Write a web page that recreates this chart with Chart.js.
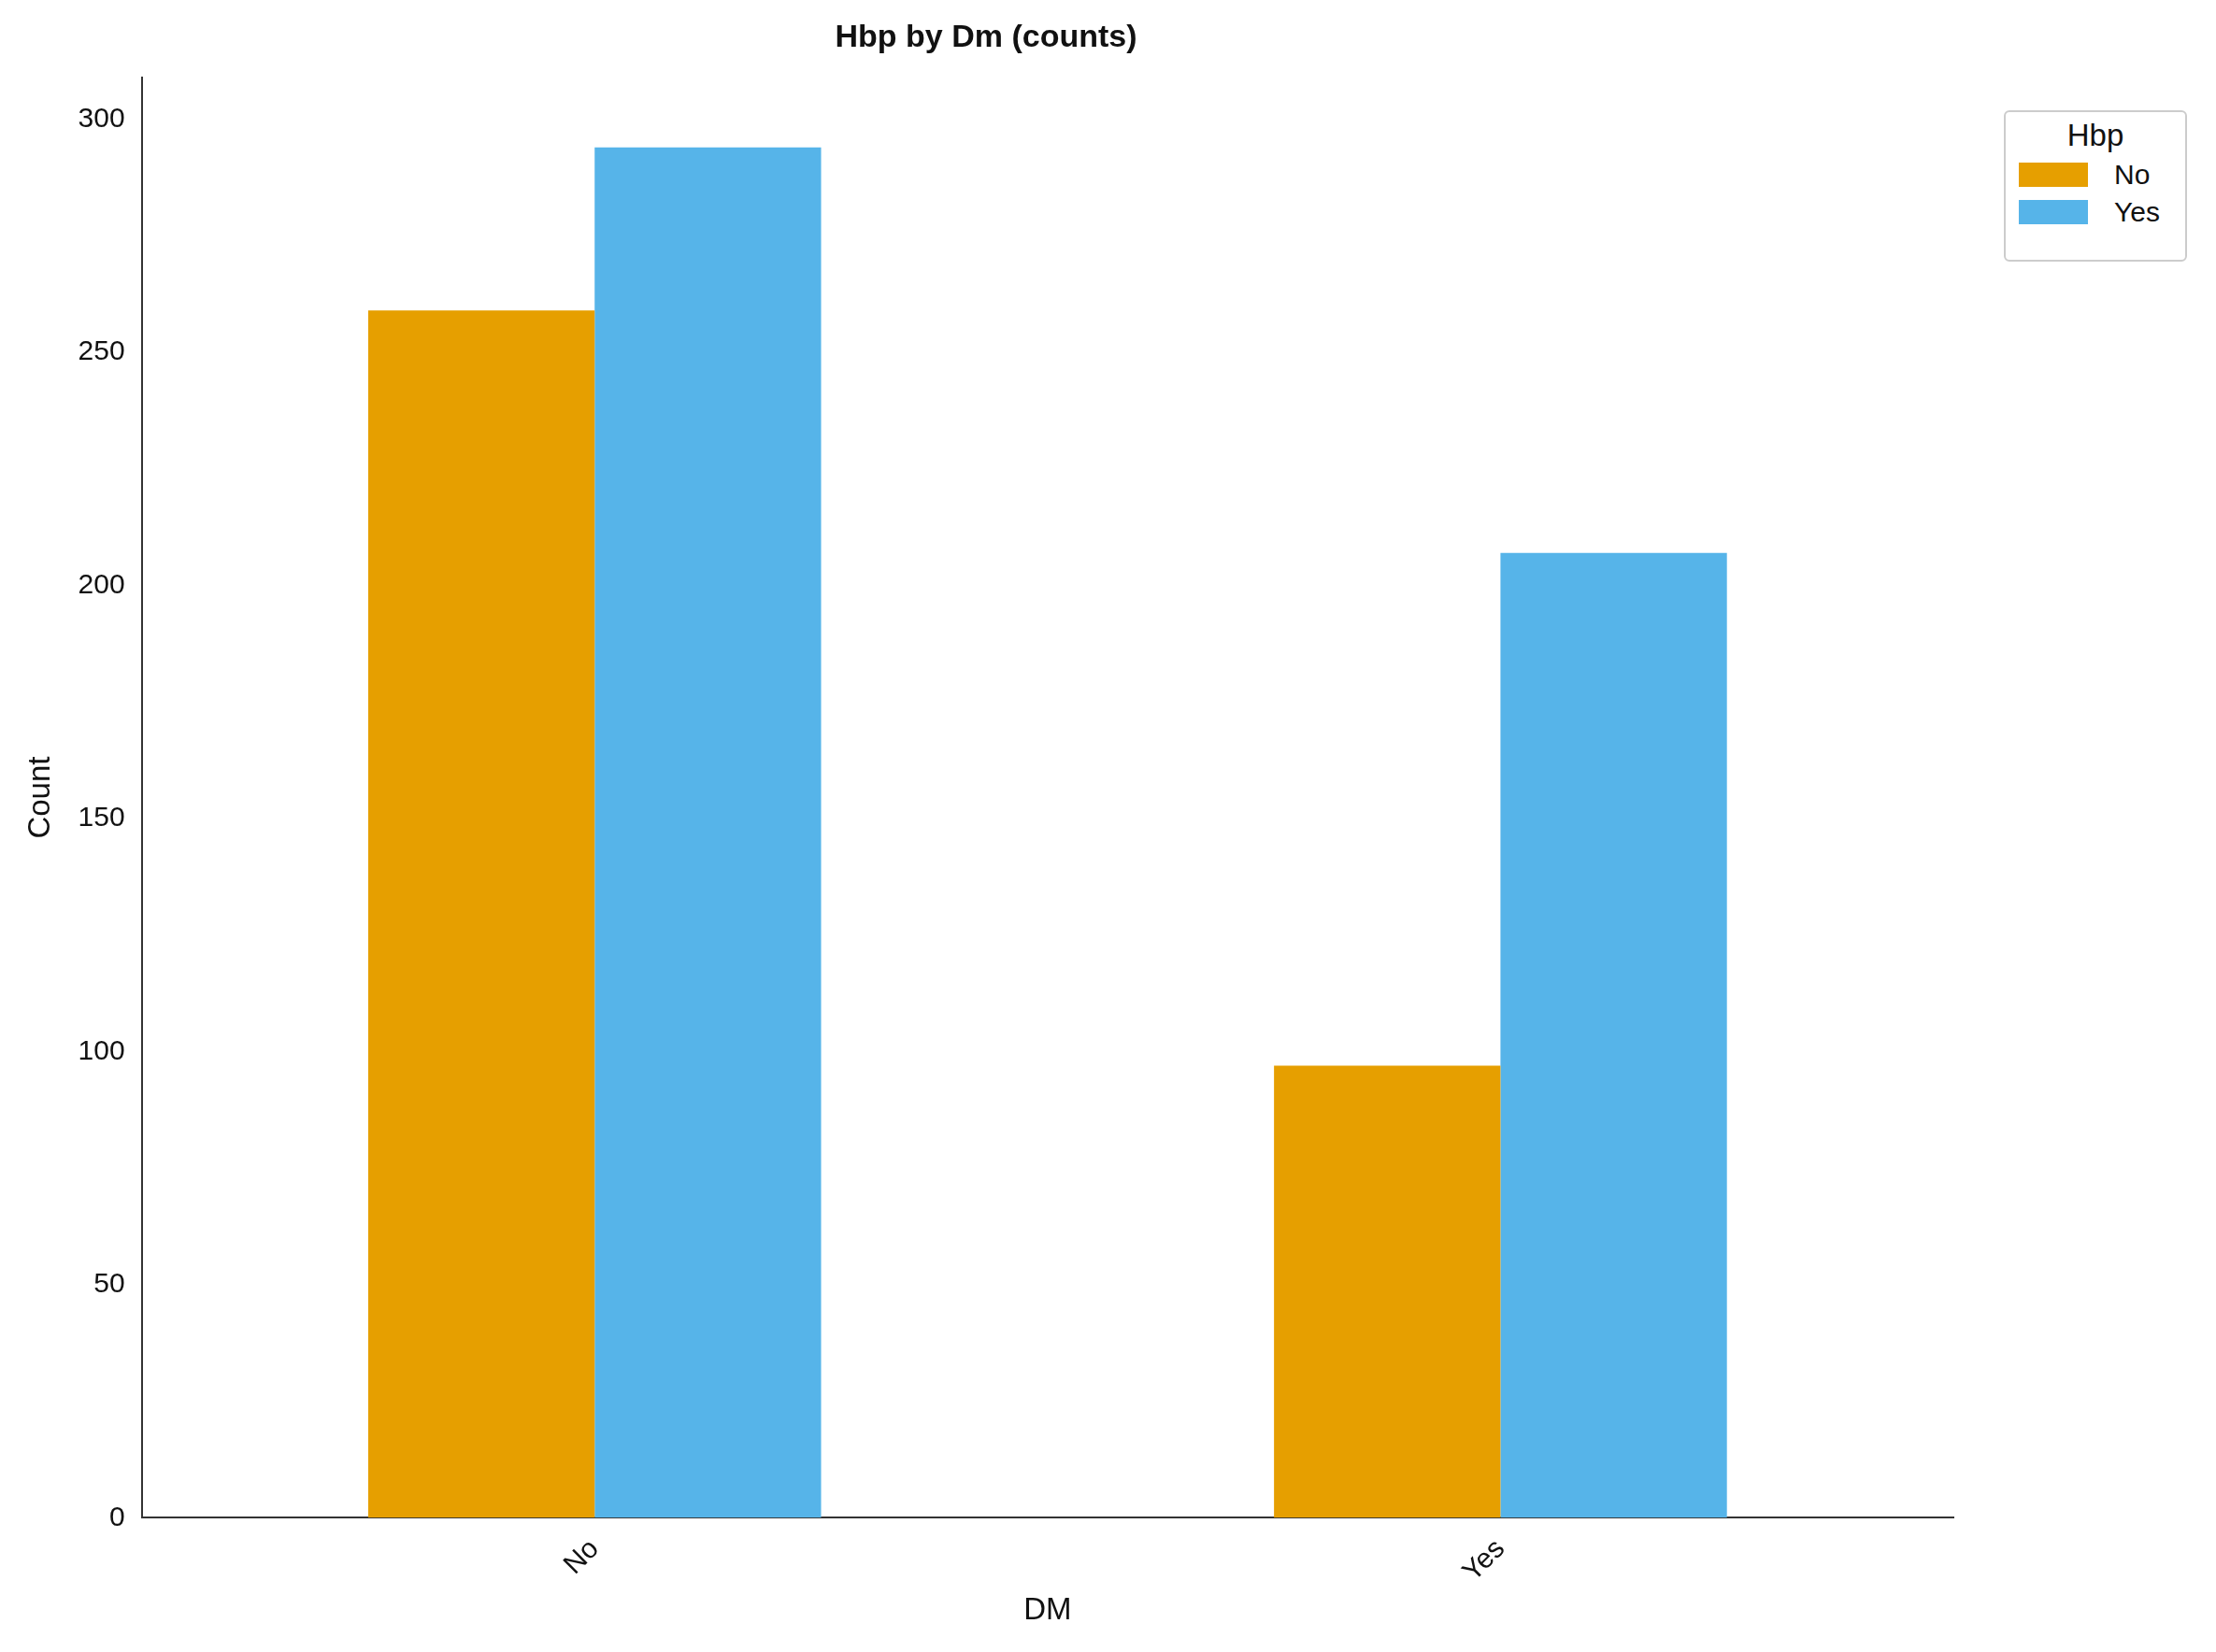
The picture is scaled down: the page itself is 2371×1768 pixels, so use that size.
<!DOCTYPE html>
<html><head><meta charset="utf-8">
<script src="https://cdn.jsdelivr.net/npm/chart.js@4"></script>
<style>
html,body{margin:0;padding:0;background:#fff;}
#wrap{position:relative;width:2371px;height:1768px;}
#legend{position:absolute;left:2144px;top:118px;width:196px;height:162px;border:2px solid #ccc;border-radius:6px;box-sizing:border-box;font-family:"Liberation Sans",Arial,sans-serif;background:#fff;}
#legend .t{text-align:center;font-size:33px;margin-top:6px;color:#111;}
#legend .r{display:flex;align-items:center;margin-left:14px;margin-top:6px;font-size:30px;color:#111;}
#legend .b{width:74px;height:26px;margin-right:28px;}
</style></head>
<body><div id="wrap"><canvas id="c" width="2371" height="1768"></canvas>
<div id="legend"><div class="t">Hbp</div>
<div class="r"><span class="b" style="background:#E69F00"></span>No</div>
<div class="r"><span class="b" style="background:#56B4E9"></span>Yes</div></div></div>
<script>
const categories = ["No", "Yes"];
const seriesNames = ["No", "Yes"];
const hbpNo = [259, 97];
const hbpYes = [294, 207];
const colors = ["#E69F00", "#56B4E9"];
const F = "'Liberation Sans', Arial, sans-serif";
new Chart(document.getElementById('c'), {
  type: 'bar',
  data: { labels: categories, datasets: [
    { label: seriesNames[0], data: hbpNo, backgroundColor: colors[0], categoryPercentage: 0.5, barPercentage: 1 },
    { label: seriesNames[1], data: hbpYes, backgroundColor: colors[1], categoryPercentage: 0.5, barPercentage: 1 }
  ]},
  options: {
    responsive: false, animation: false, devicePixelRatio: 1,
    layout: { padding: { left: 20, right: 281, top: 20, bottom: 20 } },
    plugins: {
      legend: { display: false },
      tooltip: { enabled: false },
      title: { display: true, text: 'Hbp by Dm (counts)', color: '#111', font: { family: F, size: 34, weight: 'bold' }, padding: { top: 0, bottom: 22 } }
    },
    scales: {
      x: { offset: true, grid: { display: false, drawTicks: true, tickLength: 12, tickColor: '#333' },
        border: { color: '#333', width: 2 },
        ticks: { color: '#111', font: { family: F, size: 30 }, maxRotation: 45, minRotation: 45, padding: 4 },
        title: { display: true, text: 'DM', color: '#111', font: { family: F, size: 33 }, padding: { top: 0 } } },
      y: { min: 0, max: 309, grid: { display: false, drawTicks: true, tickLength: 12, tickColor: '#333' },
        border: { color: '#333', width: 2 },
        afterBuildTicks: s => { s.ticks = [0,50,100,150,200,250,300].map(v => ({ value: v })); },
        ticks: { color: '#111', font: { family: F, size: 30 }, padding: 6 },
        title: { display: true, text: 'Count', color: '#111', font: { family: F, size: 33 }, padding: { bottom: 14 } } }
    }
  }
});
</script></body></html>
